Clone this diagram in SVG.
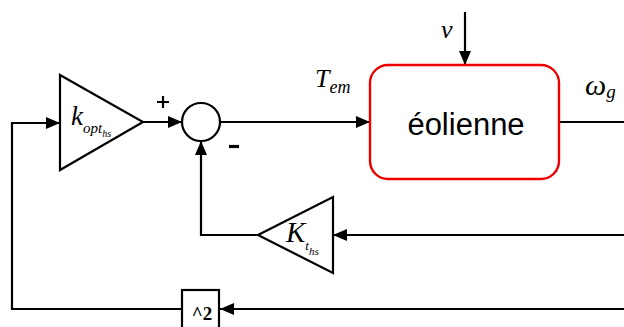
<svg xmlns="http://www.w3.org/2000/svg" width="624" height="327" viewBox="0 0 624 327">
<style>
.ln{fill:none;stroke:#000;stroke-width:2.2}
.blk{fill:#fff;stroke:#000;stroke-width:2.2}
.m{font-family:"Liberation Serif",serif;font-style:italic;fill:#000}
.s{font-family:"Liberation Sans",Arial,sans-serif;fill:#000}
</style>
<defs>
<marker id="ar" viewBox="0 0 14 12" refX="14" refY="6" markerWidth="14" markerHeight="12" markerUnits="userSpaceOnUse" orient="auto">
<path d="M0,0 L14,6 L0,12 Z" fill="#000"/>
</marker>
</defs>
<g id="connectors">
<path class="ln" d="M12,310 V123 H60" marker-end="url(#ar)"/>
<path class="ln" d="M143,122 H182" marker-end="url(#ar)"/>
<path class="ln" d="M220,122 H370" marker-end="url(#ar)"/>
<path class="ln" d="M559,122 H624"/>
<path class="ln" d="M465,12 V65" marker-end="url(#ar)"/>
<path class="ln" d="M624,235 H333" marker-end="url(#ar)"/>
<path class="ln" d="M258,235 H201 V141" marker-end="url(#ar)"/>
<path class="ln" d="M624,309 H220" marker-end="url(#ar)"/>
<path class="ln" d="M182,309 H12"/>
</g>
<g id="kopt">
<path class="blk" d="M60,75 L143,122 L60,170 Z"/>
<text class="m" x="71" y="125" font-size="27">k<tspan font-size="15" dy="8">opt</tspan><tspan font-size="10" dy="4">hs</tspan></text>
</g>
<g id="sum">
<circle class="blk" cx="201" cy="122" r="19"/>
<path d="M157,102 H169 M163,96 V108" stroke="#000" stroke-width="2.2"/>
<path d="M229,146.5 H239" stroke="#000" stroke-width="3.2"/>
</g>
<g id="eolienne">
<rect x="370" y="65" width="189" height="114" rx="18" ry="18" fill="#fff" stroke="#e00" stroke-width="2.4"/>
<text class="s" x="466" y="135" font-size="31" text-anchor="middle">éolienne</text>
</g>
<g id="kths">
<path class="blk" d="M258,235 L333,197 L333,273 Z"/>
<text class="m" x="286" y="242" font-size="29">K<tspan font-size="13" dy="8">t</tspan><tspan font-size="11" dy="5">hs</tspan></text>
</g>
<g id="sq">
<rect class="blk" x="182" y="290" width="37" height="42"/>
<text x="202" y="320" font-family="Liberation Serif,serif" font-weight="bold" font-size="19" text-anchor="middle">^2</text>
</g>
<g id="labels">
<text class="m" x="441" y="38" font-size="26">v</text>
<text class="m" x="315" y="87" font-size="26">T<tspan font-size="18" dy="6">em</tspan></text>
<text class="m" x="585" y="95" font-size="30">ω<tspan font-size="19" dy="3">g</tspan></text>
</g>
</svg>
